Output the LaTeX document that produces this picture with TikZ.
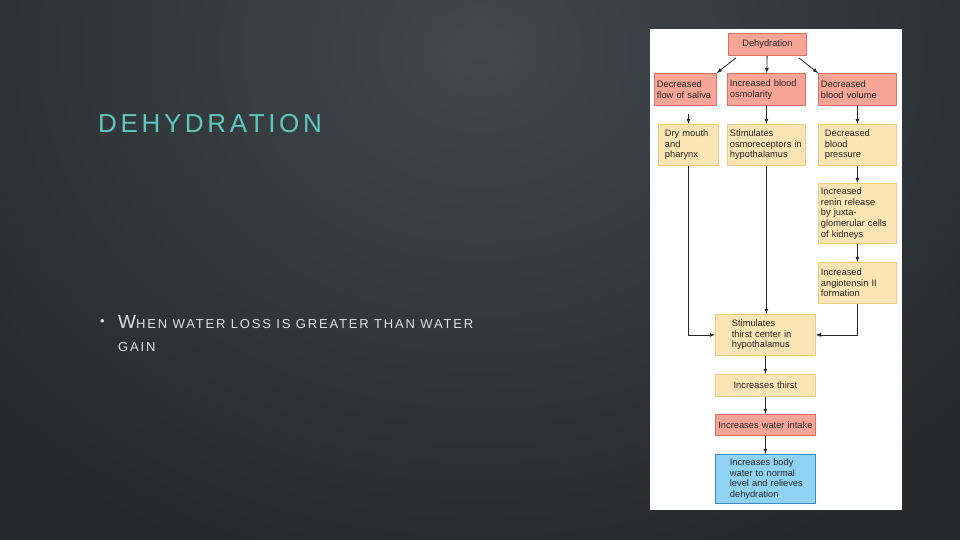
\documentclass[tikz,border=0pt]{standalone}
\usepackage{fontspec}
\setmainfont{Liberation Sans}
\newfontfamily\spaced[LetterSpace=14]{Liberation Sans}
\begin{document}
\begin{tikzpicture}[x=1pt,y=-1pt,
  bx/.style={draw, line width=0.8pt, align=left, font=\fontsize{9.3}{10.6}\selectfont, inner sep=2.5pt, anchor=north west, text=black!85},
  red/.style={bx, fill=salmonf, draw=salmond},
  yel/.style={bx, fill=yelf, draw=yeld},
  blu/.style={bx, fill=bluf, draw=blud},
  ar/.style={-latex, line width=0.8pt, black!85}]
\definecolor{salmonf}{HTML}{F6A597}\definecolor{salmond}{HTML}{DE6E60}
\definecolor{yelf}{HTML}{FCE4B4}\definecolor{yeld}{HTML}{EFCB86}
\definecolor{bluf}{HTML}{8FD2F2}\definecolor{blud}{HTML}{3A8AC4}
\definecolor{bgA}{HTML}{41474D}\definecolor{bgB}{HTML}{25292C}
\useasboundingbox (0,0) rectangle (960,540);
\fill[bgB] (0,0) rectangle (960,540);
\shade[inner color=bgA, outer color=bgB] (-200,-500) rectangle (1160,600);
\node[anchor=west, text={rgb,255:red,94;green,200;blue,190}, font=\spaced\fontsize{26}{26}\selectfont, inner sep=0pt] (title) at (98,124) {DEHYDRATION};
\node[anchor=west, text=black!12, font=\fontsize{13}{15}\selectfont, inner sep=0pt] (dot) at (100,322) {\textbullet};
\node[anchor=west, text=black!12, font=\spaced\fontsize{13}{15}\selectfont, align=left, inner sep=0pt] (bul) at (118,322) {{\fontsize{19}{19}\selectfont W}HEN WATER LOSS IS GREATER THAN WATER};
\node[anchor=west, text=black!12, font=\spaced\fontsize{13}{15}\selectfont, inner sep=0pt] (bul2) at (118,347) {GAIN};
\fill[white] (650,29) rectangle (902,510);
\node[red, minimum width=78pt, minimum height=22pt, align=center, anchor=north west] (d) at (728,33) {Dehydration};
\node[red, minimum width=62pt, minimum height=32pt, text width=57pt] (s1) at (654,73) {Decreased\\flow of saliva};
\node[red, minimum width=78pt, minimum height=32pt, text width=73pt] (s2) at (727,73) {Increased blood\\osmolarity};
\node[red, minimum width=78pt, minimum height=32pt, text width=73pt] (s3) at (818,73) {Decreased\\blood volume};
\node[yel, minimum width=60pt, minimum height=41pt, text width=55pt] (y1) at (658,124) {\hspace*{4pt}Dry mouth\\\hspace*{4pt}and\\\hspace*{4pt}pharynx};
\node[yel, minimum width=78pt, minimum height=41pt, text width=73pt] (y2) at (727,124) {Stimulates\\osmoreceptors in\\hypothalamus};
\node[yel, minimum width=78pt, minimum height=41pt, text width=73pt] (y3) at (818,124) {\hspace*{4pt}Decreased\\\hspace*{4pt}blood\\\hspace*{4pt}pressure};
\node[yel, minimum width=78pt, minimum height=60pt, text width=73pt] (r) at (818,183) {Increased\\renin release\\by juxta-\\glomerular cells\\of kidneys};
\node[yel, minimum width=78pt, minimum height=41pt, text width=73pt] (a) at (818,262) {Increased\\angiotensin II\\formation};
\node[yel, minimum width=100pt, minimum height=41pt, text width=95pt] (t) at (715,314) {\hspace*{14pt}Stimulates\\\hspace*{14pt}thirst center in\\\hspace*{14pt}hypothalamus};
\node[yel, minimum width=100pt, minimum height=22pt, align=center, text width=95pt] (th) at (715,374) {Increases thirst};
\node[red, minimum width=100pt, minimum height=21pt, align=center, text width=95pt] (w) at (715,414) {Increases water intake};
\node[blu, minimum width=100pt, minimum height=49pt, text width=95pt] (b) at (715,454) {\hspace*{12pt}Increases body\\\hspace*{12pt}water to normal\\\hspace*{12pt}level and relieves\\\hspace*{12pt}dehydration};
\draw[ar] (d.south west) ++(8,2) -- (s1.north east);
\draw[ar] (d) -- (s2);
\draw[ar] (d.south east) ++(-8,2) -- (s3.north west);
\draw[ar] (s1.south) ++(3,8) -- (y1.north);
\draw[ar] (s2) -- (y2);
\draw[ar] (s3) -- (y3);
\draw[ar] (y3) -- (r);
\draw[ar] (r) -- (a);
\draw[ar] (y2.south) -- (y2.south |- t.north);
\draw[ar] (y1.south) -- (y1.south |- t.west) -- (t.west);
\draw[ar] (a.south) -- (a.south |- t.east) -- (t.east);
\draw[ar] (t) -- (th);
\draw[ar] (th) -- (w);
\draw[ar] (w) -- (b);
\end{tikzpicture}
\end{document}
